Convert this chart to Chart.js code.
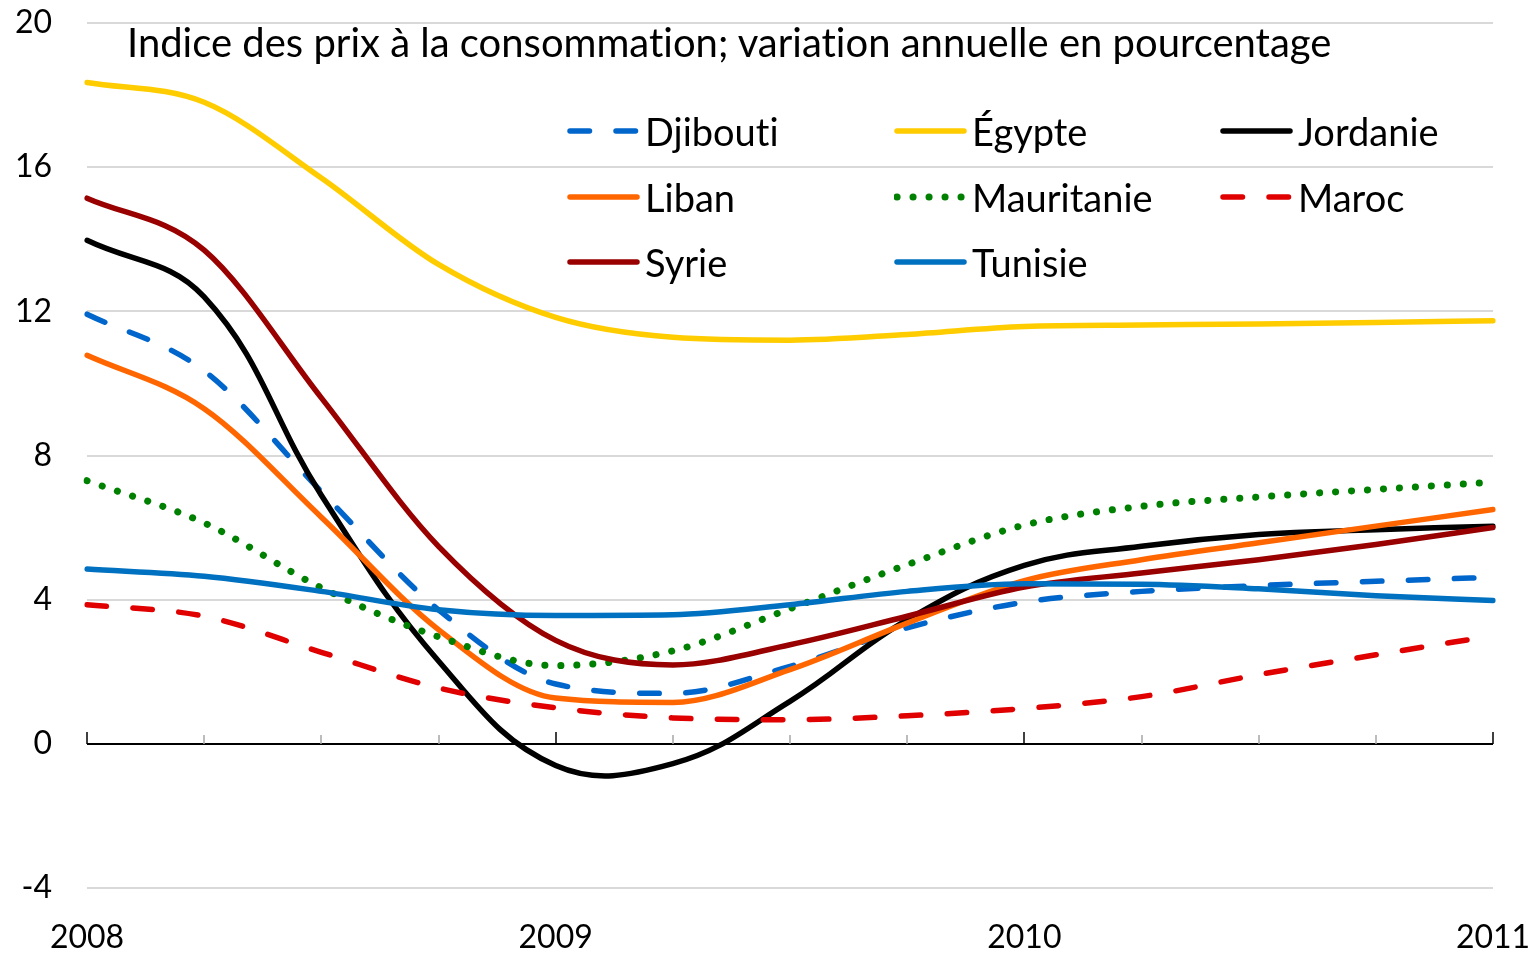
<!DOCTYPE html>
<html lang="fr">
<head>
<meta charset="utf-8">
<title>Indice des prix à la consommation</title>
<script src="https://cdn.jsdelivr.net/npm/chart.js@4.4.1/dist/chart.umd.min.js"></script>
<style>
  html, body { margin: 0; padding: 0; background: #fff; }
  #wrap { position: relative; width: 1536px; height: 953px; font-family: Lato, "Open Sans", sans-serif; color: #000;
          font-variant-ligatures: none; font-feature-settings: "liga" 0; }
  #chart { position: absolute; left: 0; top: 0; }
  #title { position: absolute; left: 127px; top: 18px; font-size: 40px; line-height: 1.2; white-space: nowrap; }
  .legend-item { position: absolute; display: flex; align-items: center; height: 46px; font-size: 38px; white-space: nowrap; }
  .legend-item svg { flex: none; margin-right: 5px; }
</style>
</head>
<body>
<div id="wrap">
  <canvas id="chart" width="1536" height="953"></canvas>
  <div id="title">Indice des prix à la consommation; variation annuelle en pourcentage</div>
  <div id="legend"></div>
</div>
<script>
// --- données (trimestrielles) ---
const xLabels = ['2008', '', '', '', '2009', '', '', '', '2010', '', '', '', '2011'];

const djibouti   = [11.92, 10.35, 7.0, 3.72, 1.66, 1.40, 2.15, 3.22, 3.93, 4.23, 4.39, 4.51, 4.62];
const egypte     = [18.35, 17.8, 15.7, 13.3, 11.83, 11.28, 11.2, 11.36, 11.58, 11.62, 11.65, 11.69, 11.74];
const jordanie   = [13.97, 12.4, 6.9, 2.3, -0.6, -0.55, 1.18, 3.44, 4.95, 5.48, 5.81, 5.94, 6.04];
const liban      = [10.78, 9.3, 6.29, 3.17, 1.27, 1.15, 2.06, 3.35, 4.53, 5.11, 5.58, 6.04, 6.5];
const mauritanie = [7.3, 6.13, 4.33, 2.97, 2.17, 2.58, 3.75, 4.97, 6.07, 6.59, 6.85, 7.06, 7.26];
const maroc      = [3.86, 3.54, 2.54, 1.55, 1.0, 0.72, 0.67, 0.78, 0.98, 1.31, 1.92, 2.47, 3.0];
const syrie      = [15.14, 13.7, 9.6, 5.48, 2.87, 2.19, 2.75, 3.54, 4.35, 4.74, 5.11, 5.53, 6.0];
const tunisie    = [4.85, 4.65, 4.23, 3.72, 3.56, 3.58, 3.86, 4.23, 4.44, 4.43, 4.3, 4.11, 3.98];

const yTicks = { min: -4, max: 20, step: 4 };

// --- séries: nom, données, couleur, style ---
const DASH = [19.5, 26.5];
const DOT = [0.1, 15.9];
const series = [
  { name: 'Djibouti',   data: djibouti,   color: '#0066CC', dash: DASH, width: 5.5 },
  { name: 'Égypte',     data: egypte,     color: '#FFCC00', dash: [],   width: 5.5 },
  { name: 'Jordanie',   data: jordanie,   color: '#000000', dash: [],   width: 5.5, smooth: 'default' },
  { name: 'Liban',      data: liban,      color: '#FF6600', dash: [],   width: 5.5 },
  { name: 'Mauritanie', data: mauritanie, color: '#008000', dash: DOT,  width: 7 },
  { name: 'Maroc',      data: maroc,      color: '#E00000', dash: DASH, width: 5.5 },
  { name: 'Syrie',      data: syrie,      color: '#990000', dash: [],   width: 5.5 },
  { name: 'Tunisie',    data: tunisie,    color: '#0070C0', dash: [],   width: 5.5 }
];

const FONT = 'Lato, "Open Sans", sans-serif';

// axe horizontal à zéro avec graduations vers le haut
const zeroAxis = {
  id: 'zeroAxis',
  beforeDatasetsDraw(chart) {
    const { ctx, scales: { x, y } } = chart;
    const y0 = Math.round(y.getPixelForValue(0));
    ctx.save();
    ctx.strokeStyle = '#000';
    ctx.lineWidth = 2;
    ctx.beginPath();
    ctx.moveTo(x.left, y0);
    ctx.lineTo(x.right, y0);
    ctx.stroke();
    xLabels.forEach((lab, i) => {
      const px = Math.round(x.getPixelForValue(i));
      const major = lab !== '';
      ctx.strokeStyle = major ? '#000' : '#A6A6A6';
      ctx.lineWidth = 1.5;
      ctx.beginPath();
      ctx.moveTo(px, y0);
      ctx.lineTo(px, y0 - (major ? 12 : 9));
      ctx.stroke();
    });
    ctx.restore();
  }
};

const chart = new Chart(document.getElementById('chart'), {
  type: 'line',
  data: {
    labels: xLabels,
    datasets: series.map((s, i) => ({
      label: s.name,
      data: s.data,
      borderColor: s.color,
      backgroundColor: s.color,
      borderWidth: s.width,
      borderDash: s.dash,
      borderCapStyle: 'round',
      borderJoinStyle: 'round',
      pointRadius: 0,
      pointHoverRadius: 0,
      cubicInterpolationMode: s.smooth || 'monotone',
      tension: 0.4,
      fill: false,
      order: series.length - 1 - i
    }))
  },
  options: {
    responsive: false,
    devicePixelRatio: 1,
    animation: false,
    layout: { padding: { left: 0, right: 43, top: 23, bottom: 0 } },
    plugins: { legend: { display: false }, tooltip: { enabled: false }, title: { display: false } },
    scales: {
      x: {
        grid: { display: false, drawTicks: false },
        border: { display: false },
        ticks: { autoSkip: false, maxRotation: 0, color: '#000', font: { family: FONT, size: 32 }, padding: 30 },
        afterFit: s => { s.height = 65; s.paddingLeft = 0; s.paddingRight = 0; }
      },
      y: {
        min: yTicks.min,
        max: yTicks.max,
        ticks: { stepSize: yTicks.step, color: '#000', font: { family: FONT, size: 32 }, padding: 35 },
        grid: {
          drawTicks: false,
          lineWidth: 2,
          color: ctx => (ctx.tick && ctx.tick.value === 0) ? 'rgba(0,0,0,0)' : '#D9D9D9'
        },
        border: { display: false },
        afterFit: s => { s.width = 87; s.paddingTop = 0; s.paddingBottom = 0; }
      }
    }
  },
  plugins: [zeroAxis]
});

// --- légende HTML (3 colonnes) ---
const legendCols = [567, 894, 1220];
const legendRows = [131, 197, 262];
const legendEl = document.getElementById('legend');
series.forEach((s, i) => {
  const item = document.createElement('div');
  item.className = 'legend-item';
  item.style.left = legendCols[i % 3] + 'px';
  item.style.top = (legendRows[Math.floor(i / 3)] - 23) + 'px';
  const dash = s.dash.length ? `stroke-dasharray="${s.dash.join(' ')}"` : '';
  item.innerHTML =
    `<svg width="73" height="14" viewBox="0 0 73 14">` +
    `<line x1="3" y1="7" x2="70" y2="7" stroke="${s.color}" stroke-width="${s.width}" stroke-linecap="round" ${dash}/></svg>` +
    `<span>${s.name}</span>`;
  legendEl.appendChild(item);
});
</script>
</body>
</html>
